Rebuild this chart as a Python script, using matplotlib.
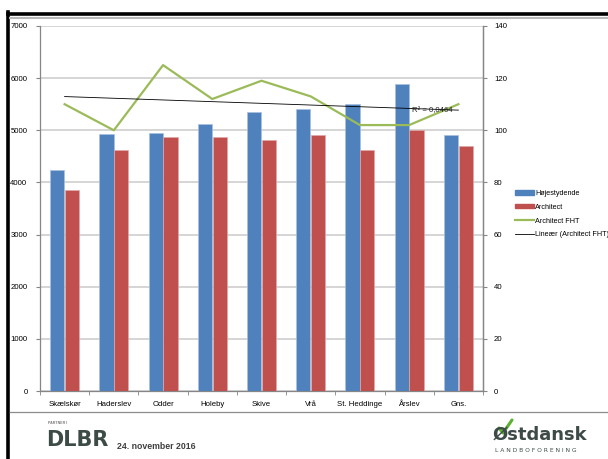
import numpy as np
import matplotlib
matplotlib.use("Agg")
import matplotlib.pyplot as plt
from matplotlib.lines import Line2D
from matplotlib.patches import Patch

categories = ["Skælskør", "Haderslev", "Odder", "Holeby", "Skive", "Vrå",
              "St. Heddinge", "Årslev", "Gns."]
hojestydende = [4230, 4935, 4948, 5127, 5350, 5410, 5505, 5890, 4910]
architect = [3850, 4622, 4866, 4878, 4808, 4904, 4622, 5006, 4700]
architect_fht = [110, 100, 125, 112, 119, 113, 102, 102, 110]
left_ticks = [0, 1000, 2000, 3000, 4000, 5000, 6000, 7000]
right_ticks = [0, 20, 40, 60, 80, 100, 120, 140]

W, H = 608, 459
plt.rcParams['font.family'] = ['Liberation Sans', 'DejaVu Sans']
fig = plt.figure(figsize=(W / 100, H / 100), dpi=100)

def fx(px):
    return px / W

def fy(py):
    return 1 - py / H

# slide decorations
fig.add_artist(Line2D([fx(8), 1], [fy(13.5), fy(13.5)], color="black", lw=2.6))
fig.add_artist(Line2D([fx(8), fx(8)], [fy(12), 0], color="black", lw=2.6))
fig.add_artist(Line2D([fx(10), 1], [fy(18), fy(18)], color="#b8b8b8", lw=1.5))
fig.add_artist(Line2D([fx(10), 1], [fy(412), fy(412)], color="#8c8c8c", lw=0.9))

ax = fig.add_axes([fx(40), fy(391), fx(483) - fx(40), fy(26) - fy(391)])
x = np.arange(len(categories))
bw = 0.29
ax.bar(x - 0.15, hojestydende, bw, color="#4F81BD", edgecolor="#a9c1e0",
       linewidth=0.5, zorder=3, label="Højestydende")
ax.bar(x + 0.15, architect, bw, color="#C0504D", edgecolor="#e0a9a8",
       linewidth=0.5, zorder=3, label="Architect")
ax.set_xlim(-0.5, len(categories) - 0.5)
ax.set_ylim(0, 7000)
ax.set_yticks(left_ticks)
ax.yaxis.grid(True, color="#cacaca", lw=1.1, zorder=0)
ax.set_axisbelow(True)
ax.set_xticks(x)
ax.set_xticklabels(categories, fontsize=5.6)
ax.set_xticks(np.arange(-0.5, len(categories), 1), minor=True)
ax.tick_params(axis="x", which="major", length=0, pad=7)
ax.tick_params(axis="x", which="minor", length=3, color="#868686")
ax.tick_params(axis="y", labelsize=5.6, length=3, color="#868686", pad=6)
ax.spines["top"].set_visible(False)
for s in ["left", "bottom", "right"]:
    ax.spines[s].set_color("#868686")
    ax.spines[s].set_linewidth(0.9)

ax2 = ax.twinx()
ax2.set_ylim(0, 140)
ax2.set_yticks(right_ticks)
ax2.tick_params(axis="y", labelsize=5.6, length=3, color="#868686", pad=5)
for s in ["top", "left", "bottom"]:
    ax2.spines[s].set_visible(False)
ax2.spines["right"].set_color("#868686")
ax2.spines["right"].set_linewidth(0.9)
ax2.plot(x, architect_fht, color="#9BBB59", lw=1.6, zorder=4)
coef = np.polyfit(x, architect_fht, 1)
trend = np.polyval(coef, x)
ax2.plot(x, trend, color="black", lw=0.6, zorder=5)
yy = np.array(architect_fht, dtype=float)
r2 = 1 - np.sum((yy - trend) ** 2) / np.sum((yy - yy.mean()) ** 2)
ax2.text(7.05, trend[7] - 1.0, "R² = " + f"{r2:.4f}".replace(".", ","),
         fontsize=5.6, va="center", ha="left", color="#222222", zorder=6)

handles = [Patch(color="#4F81BD"), Patch(color="#C0504D"),
           Line2D([], [], color="#9BBB59", lw=1.6),
           Line2D([], [], color="black", lw=0.6)]
labels = ["Højestydende", "Architect", "Architect FHT", "Lineær (Architect FHT)"]
fig.legend(handles, labels, loc="upper left", bbox_to_anchor=(fx(512), fy(187)),
           frameon=False, fontsize=5.2, handlelength=2.7, handleheight=0.55,
           handletextpad=0.15, labelspacing=0.95, borderaxespad=0)

# footer
fig.text(fx(48), fy(423), "PARTNER I", fontsize=2.6, color="#7a7a7a",
         fontweight="bold", va="center")
fig.text(fx(46), fy(440), "DLBR", fontsize=15, color="#3c4b45",
         fontweight="heavy", family="DejaVu Sans", va="center")
fig.text(fx(117), fy(446.5), "24. november 2016", fontsize=6.3, color="#3f3f3f",
         fontweight="bold", va="center")
fig.text(fx(493), fy(435), "Østdansk", fontsize=13, color="#3d4a47",
         fontweight="bold", family="DejaVu Sans", va="center")
fig.add_artist(Line2D([fx(499), fx(503), fx(512)], [fy(428), fy(433), fy(420)],
                      color="#5bb02f", lw=2.2, solid_capstyle="round"))
fig.text(fx(495), fy(450), "L A N D B O F O R E N I N G", fontsize=4.3,
         color="#3d4a47", va="center", family="DejaVu Sans")

fig.savefig("out.png", dpi=100)
